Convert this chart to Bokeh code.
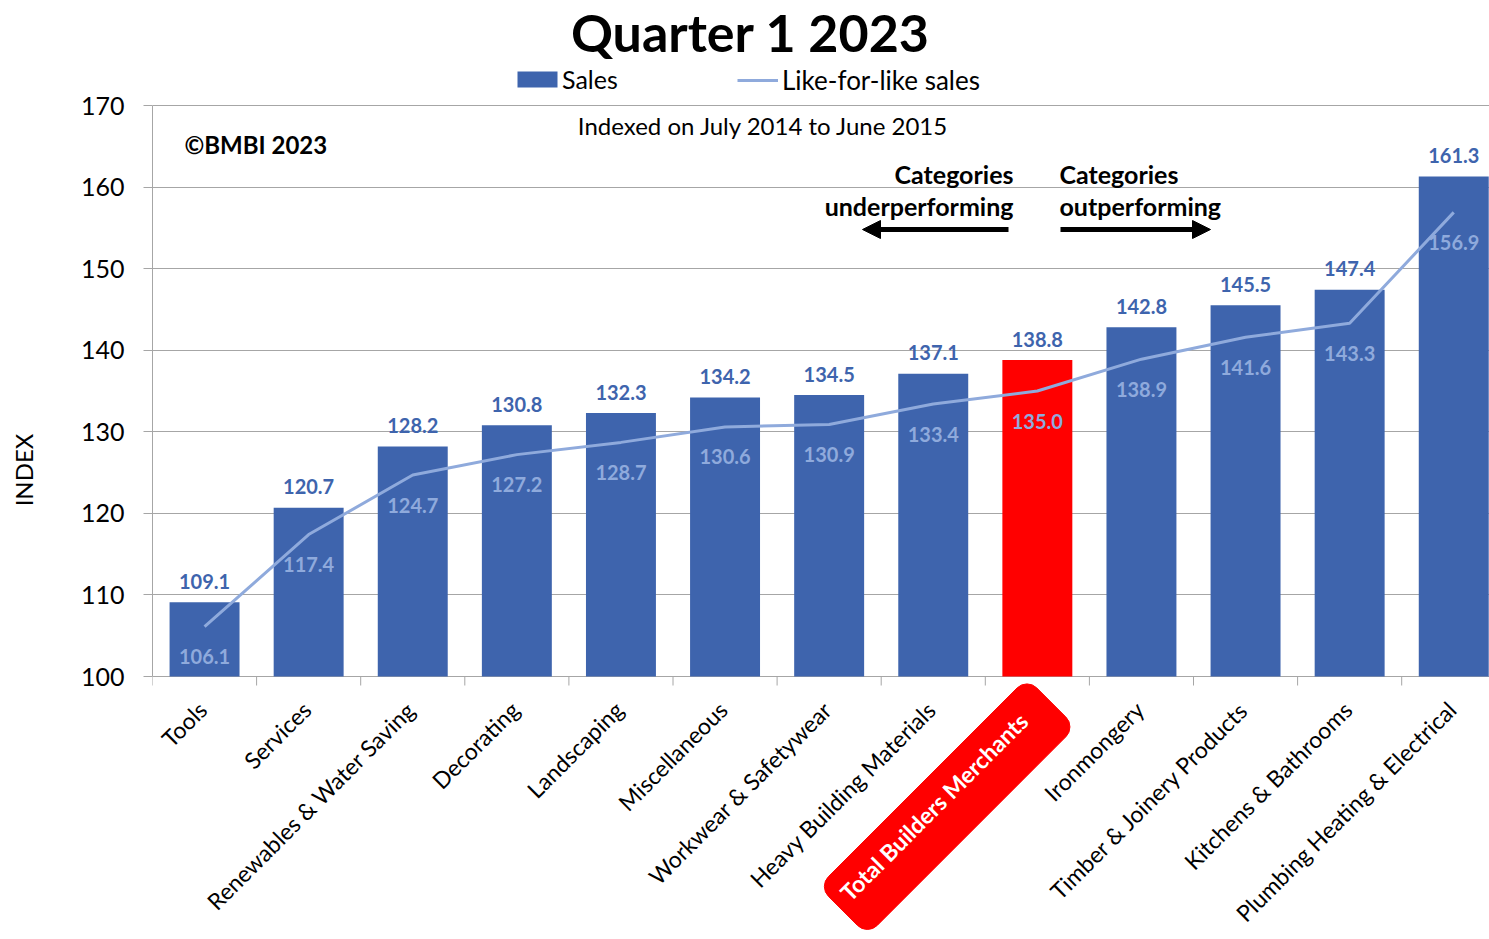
import math
from bokeh.plotting import figure
from bokeh.models import (ColumnDataSource, Range1d, FixedTicker, Label, Arrow,
                          NormalHead, Legend, LegendItem)
from bokeh.core.properties import value
from bokeh.embed import file_html
from bokeh.resources import INLINE

# ---------------- data ----------------
categories = ["Tools", "Services", "Renewables & Water Saving", "Decorating",
              "Landscaping", "Miscellaneous", "Workwear & Safetywear",
              "Heavy Building Materials", "Total Builders Merchants",
              "Ironmongery", "Timber & Joinery Products", "Kitchens & Bathrooms",
              "Plumbing Heating & Electrical"]
sales = [109.1, 120.7, 128.2, 130.8, 132.3, 134.2, 134.5, 137.1, 138.8,
         142.8, 145.5, 147.4, 161.3]
like_for_like = [106.1, 117.4, 124.7, 127.2, 128.7, 130.6, 130.9, 133.4, 135.0,
                 138.9, 141.6, 143.3, 156.9]
y_ticks = [100, 110, 120, 130, 140, 150, 160, 170]
highlight = "Total Builders Merchants"

title_text = "Quarter 1 2023"
subtitle_text = "Indexed on July 2014 to June 2015"
copyright_text = "©BMBI 2023"
under_text = ["Categories", "underperforming"]
over_text = ["Categories", "outperforming"]

# ---------------- layout / styles ----------------
FONT = "Lato"
BLUE = "#3E64AD"
LIGHT = "#8FAADC"
RED = "#FF0000"
GRID = "#A6A6A6"

W, H = 1489, 939
LEFT = 152                  # left edge of the plotting frame (px)
Y_TOP_PX, Y_BOT_PX = 105, 676   # pixel rows of y=170 and y=100
CAT_PX = 104.1              # width of one category (px)
PPU = (Y_BOT_PX - Y_TOP_PX) / (y_ticks[-1] - y_ticks[0])


def px2x(px):
    return (px - LEFT) / CAT_PX - 0.5


def py2y(py):
    return y_ticks[0] + (Y_BOT_PX - py) / PPU


n = len(categories)
xs = list(range(n))
colors = [RED if c == highlight else BLUE for c in categories]
src = ColumnDataSource(dict(
    x=xs, sales=sales, lfl=like_for_like, color=colors,
    sales_txt=[f"{v:.1f}" for v in sales],
    lfl_txt=[f"{v:.1f}" for v in like_for_like],
))

p = figure(width=W, height=H, output_backend="svg", toolbar_location=None,
           x_range=Range1d(px2x(LEFT), px2x(W)),
           y_range=Range1d(py2y(H), py2y(0)),
           x_axis_location=None,
           min_border_left=LEFT, min_border_right=0, min_border_top=0,
           min_border_bottom=0)
p.outline_line_color = None
for g in p.xgrid:
    g.visible = False
p.ygrid.grid_line_color = GRID
p.ygrid.grid_line_width = 1
p.ygrid.ticker = FixedTicker(ticks=y_ticks)

# y axis (drawn only over the value span)
p.yaxis.ticker = FixedTicker(ticks=y_ticks)
p.yaxis.bounds = (y_ticks[0], y_ticks[-1])
p.yaxis.axis_line_color = GRID
p.yaxis.major_tick_line_color = GRID
p.yaxis.major_tick_out = 9
p.yaxis.major_tick_in = 0
p.yaxis.minor_tick_line_color = None
p.yaxis.major_label_text_font = FONT
p.yaxis.major_label_text_font_size = "25px"
p.yaxis.major_label_text_color = "black"
p.yaxis.major_label_standoff = 19
p.yaxis.axis_label = "INDEX"
p.yaxis.axis_label_text_font = FONT
p.yaxis.axis_label_text_font_size = "24px"
p.yaxis.axis_label_text_font_style = "normal"
p.yaxis.axis_label_text_color = "black"
p.yaxis.axis_label_standoff = 40

# category tick marks below the baseline (between categories)
tick_x = [i - 0.5 for i in range(n + 1)]
p.segment(x0=tick_x, y0=[y_ticks[0]] * len(tick_x), x1=tick_x,
          y1=[py2y(Y_BOT_PX + 9)] * len(tick_x), line_color=GRID, line_width=1)

bars = p.vbar(x="x", top="sales", bottom=y_ticks[0], width=0.672,
              fill_color="color", line_color=None, source=src)
line = p.line(x="x", y="lfl", line_color=LIGHT, line_width=3, source=src)

p.text(x="x", y="sales", text="sales_txt", source=src, text_align="center",
       text_baseline="middle", y_offset=-21, text_color=BLUE,
       text_font=value(FONT), text_font_style="bold", text_font_size="20px")
p.text(x="x", y="lfl", text="lfl_txt", source=src, text_align="center",
       text_baseline="middle", y_offset=30, text_color=LIGHT,
       text_font=value(FONT), text_font_style="bold", text_font_size="20px")

# category labels (rotated, ending at the category)
for i, cat in enumerate(categories):
    if cat == highlight:
        lab = Label(x=i + 14 / CAT_PX, y=py2y(Y_BOT_PX + 26), text=cat,
                    angle=math.pi / 4, text_align="right", text_baseline="middle",
                    text_font=FONT, text_font_size="23px", text_font_style="bold",
                    text_color="white", background_fill_color=RED,
                    border_line_color=RED, padding=(11, 30, 11, 30),
                    border_radius=14)
    else:
        lab = Label(x=i - 2 / CAT_PX, y=py2y(Y_BOT_PX + 29), text=cat,
                    angle=math.pi / 4, text_align="right", text_baseline="middle",
                    text_font=FONT, text_font_size="23px", text_color="black")
    p.add_layout(lab)

# titles and annotations
p.add_layout(Label(x=px2x(750), y=py2y(31), text=title_text, text_align="center",
                   text_baseline="middle", text_font=FONT, text_font_size="52px",
                   text_font_style="bold", text_color="black"))
p.add_layout(Label(x=px2x(763), y=py2y(125), text=subtitle_text,
                   text_align="center", text_baseline="middle", text_font=FONT,
                   text_font_size="24px", text_color="black"))
p.add_layout(Label(x=px2x(184), y=py2y(144), text=copyright_text,
                   text_align="left", text_baseline="middle", text_font=FONT,
                   text_font_size="24px", text_font_style="bold",
                   text_color="black"))

for txt, yy in zip(under_text, (173, 205)):
    p.add_layout(Label(x=px2x(1013), y=py2y(yy), text=txt, text_align="right",
                       text_baseline="middle", text_font=FONT,
                       text_font_size="25px", text_font_style="bold",
                       text_color="black"))
for txt, yy in zip(over_text, (173, 205)):
    p.add_layout(Label(x=px2x(1059), y=py2y(yy), text=txt, text_align="left",
                       text_baseline="middle", text_font=FONT,
                       text_font_size="25px", text_font_style="bold",
                       text_color="black"))

p.add_layout(Arrow(x_start=px2x(1008), y_start=py2y(229), x_end=px2x(862),
                   y_end=py2y(229), line_width=5, line_color="black",
                   end=NormalHead(size=18, fill_color="black", line_color="black")))
p.add_layout(Arrow(x_start=px2x(1060), y_start=py2y(229), x_end=px2x(1210),
                   y_end=py2y(229), line_width=5, line_color="black",
                   end=NormalHead(size=18, fill_color="black", line_color="black")))

legend_style = dict(orientation="horizontal", padding=0,
                    margin=0, border_line_alpha=0, background_fill_alpha=0,
                    label_text_font=FONT, label_text_color="black")
legend_sales = Legend(items=[LegendItem(label="Sales", renderers=[bars], index=0)],
                      location=(512 - LEFT, 845), glyph_width=50, glyph_height=20,
                      label_standoff=0, label_text_font_size="25px",
                      **legend_style)
legend_lfl = Legend(items=[LegendItem(label="Like-for-like sales", renderers=[line])],
                    location=(737 - LEFT, 843), glyph_width=41, glyph_height=20,
                    label_standoff=4, label_text_font_size="26px",
                    **legend_style)
p.add_layout(legend_sales)
p.add_layout(legend_lfl)

open("out.html", "w").write(file_html(p, INLINE))
